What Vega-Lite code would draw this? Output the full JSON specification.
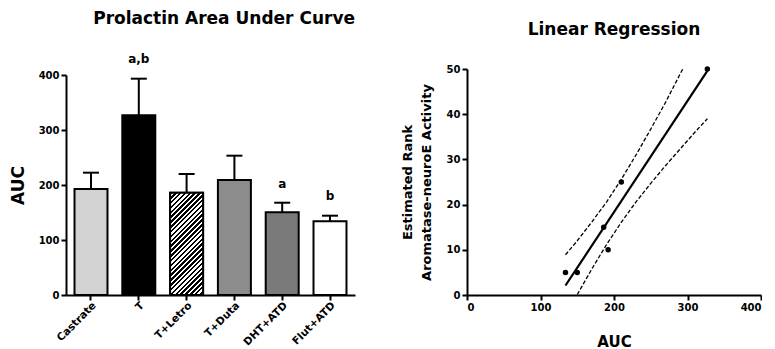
{
  "$schema": "https://vega.github.io/schema/vega-lite/v6.json",
  "padding": {"left": 9, "top": 9, "right": 0, "bottom": 0},
  "bounds": "flush",
  "spacing": 112,
  "config": {
    "font": "DejaVu Sans",
    "view": {"stroke": null},
    "axis": {"domainColor": "black", "domainWidth": 2, "tickColor": "black", "tickWidth": 2, "tickSize": 5, "labelFont": "DejaVu Sans", "labelFontWeight": "bold", "labelFontSize": 10, "labelColor": "black", "titleFont": "DejaVu Sans", "titleFontWeight": "bold", "titleColor": "black", "grid": false},
    "title": {"font": "DejaVu Sans", "fontWeight": "bold", "fontSize": 17, "color": "black", "offset": 25}
  },
  "datasets": {
    "bars": [
      {"group": "Castrate", "auc": 192.7, "err": 222.4},
      {"group": "T", "auc": 326.7, "err": 393.3, "sig": "a,b", "sigpos": 430},
      {"group": "T+Letro", "auc": 186, "err": 220},
      {"group": "T+Duta", "auc": 209, "err": 253.3},
      {"group": "DHT+ATD", "auc": 150.3, "err": 167.8, "sig": "a", "sigpos": 202},
      {"group": "Flut+ATD", "auc": 134, "err": 144.2, "sig": "b", "sigpos": 180}
    ],
    "points": [
      {"auc": 134, "rank": 5},
      {"auc": 150, "rank": 5},
      {"auc": 186, "rank": 15},
      {"auc": 192, "rank": 10},
      {"auc": 210, "rank": 25},
      {"auc": 327, "rank": 50}
    ],
    "lines": [
      {"series": "fit", "auc": 134, "rank": 2.1},
      {"series": "fit", "auc": 327, "rank": 49.6},
      {"series": "upper", "auc": 134, "rank": 8.9},
      {"series": "upper", "auc": 150, "rank": 12.0},
      {"series": "upper", "auc": 170, "rank": 16.2},
      {"series": "upper", "auc": 190, "rank": 20.6},
      {"series": "upper", "auc": 210, "rank": 25.6},
      {"series": "upper", "auc": 230, "rank": 31.0},
      {"series": "upper", "auc": 250, "rank": 36.7},
      {"series": "upper", "auc": 270, "rank": 42.6},
      {"series": "upper", "auc": 293.5, "rank": 50},
      {"series": "lower", "auc": 150, "rank": 0.1},
      {"series": "lower", "auc": 170, "rank": 5.8},
      {"series": "lower", "auc": 190, "rank": 11.2},
      {"series": "lower", "auc": 210, "rank": 16.1},
      {"series": "lower", "auc": 230, "rank": 20.6},
      {"series": "lower", "auc": 250, "rank": 24.7},
      {"series": "lower", "auc": 270, "rank": 28.6},
      {"series": "lower", "auc": 290, "rank": 32.3},
      {"series": "lower", "auc": 310, "rank": 36.0},
      {"series": "lower", "auc": 327, "rank": 39.0}
    ]
  },
  "hconcat": [
    {
      "width": 289,
      "height": 226,
      "title": {"text": "Prolactin Area Under Curve", "anchor": "end"},
      "data": {"name": "bars"},
      "encoding": {
        "x": {"field": "group", "type": "nominal", "sort": null, "title": null, "scale": {"paddingInner": 0.31, "paddingOuter": 0.178}, "axis": {"labelAngle": -45, "labelFontSize": 10.5, "labelPadding": 0}}
      },
      "layer": [
        {
          "mark": {"type": "bar", "stroke": "black", "strokeWidth": 2},
          "encoding": {
            "y": {"field": "auc", "type": "quantitative", "title": "AUC", "scale": {"domain": [0, 400], "range": [226, 6], "nice": false}, "axis": {"values": [0, 100, 200, 300, 400], "titleFontSize": 17, "titlePadding": 11}},
            "fill": {"field": "group", "type": "nominal", "legend": null, "scale": {"domain": ["Castrate", "T", "T+Letro", "T+Duta", "DHT+ATD", "Flut+ATD"], "range": ["#d2d2d2", "#000000", "#ffffff", "#8c8c8c", "#7a7a7a", "#ffffff"]}}
          }
        },
        {
          "transform": [{"filter": "datum.group === 'T+Letro'"}],
          "mark": {"type": "bar", "stroke": "black", "strokeWidth": 2, "fill": {"gradient": "linear", "x1": 0, "y1": 0, "x2": 0.3865, "y2": 1.198, "stops": [
{"offset":0,"color":"#000"},{"offset":0.0179,"color":"#000"},{"offset":0.0179,"color":"#fff"},{"offset":0.0357,"color":"#fff"},
{"offset":0.0357,"color":"#000"},{"offset":0.0536,"color":"#000"},{"offset":0.0536,"color":"#fff"},{"offset":0.0714,"color":"#fff"},
{"offset":0.0714,"color":"#000"},{"offset":0.0893,"color":"#000"},{"offset":0.0893,"color":"#fff"},{"offset":0.1071,"color":"#fff"},
{"offset":0.1071,"color":"#000"},{"offset":0.125,"color":"#000"},{"offset":0.125,"color":"#fff"},{"offset":0.1429,"color":"#fff"},
{"offset":0.1429,"color":"#000"},{"offset":0.1607,"color":"#000"},{"offset":0.1607,"color":"#fff"},{"offset":0.1786,"color":"#fff"},
{"offset":0.1786,"color":"#000"},{"offset":0.1964,"color":"#000"},{"offset":0.1964,"color":"#fff"},{"offset":0.2143,"color":"#fff"},
{"offset":0.2143,"color":"#000"},{"offset":0.2321,"color":"#000"},{"offset":0.2321,"color":"#fff"},{"offset":0.25,"color":"#fff"},
{"offset":0.25,"color":"#000"},{"offset":0.2679,"color":"#000"},{"offset":0.2679,"color":"#fff"},{"offset":0.2857,"color":"#fff"},
{"offset":0.2857,"color":"#000"},{"offset":0.3036,"color":"#000"},{"offset":0.3036,"color":"#fff"},{"offset":0.3214,"color":"#fff"},
{"offset":0.3214,"color":"#000"},{"offset":0.3393,"color":"#000"},{"offset":0.3393,"color":"#fff"},{"offset":0.3571,"color":"#fff"},
{"offset":0.3571,"color":"#000"},{"offset":0.375,"color":"#000"},{"offset":0.375,"color":"#fff"},{"offset":0.3929,"color":"#fff"},
{"offset":0.3929,"color":"#000"},{"offset":0.4107,"color":"#000"},{"offset":0.4107,"color":"#fff"},{"offset":0.4286,"color":"#fff"},
{"offset":0.4286,"color":"#000"},{"offset":0.4464,"color":"#000"},{"offset":0.4464,"color":"#fff"},{"offset":0.4643,"color":"#fff"},
{"offset":0.4643,"color":"#000"},{"offset":0.4821,"color":"#000"},{"offset":0.4821,"color":"#fff"},{"offset":0.5,"color":"#fff"},
{"offset":0.5,"color":"#000"},{"offset":0.5179,"color":"#000"},{"offset":0.5179,"color":"#fff"},{"offset":0.5357,"color":"#fff"},
{"offset":0.5357,"color":"#000"},{"offset":0.5536,"color":"#000"},{"offset":0.5536,"color":"#fff"},{"offset":0.5714,"color":"#fff"},
{"offset":0.5714,"color":"#000"},{"offset":0.5893,"color":"#000"},{"offset":0.5893,"color":"#fff"},{"offset":0.6071,"color":"#fff"},
{"offset":0.6071,"color":"#000"},{"offset":0.625,"color":"#000"},{"offset":0.625,"color":"#fff"},{"offset":0.6429,"color":"#fff"},
{"offset":0.6429,"color":"#000"},{"offset":0.6607,"color":"#000"},{"offset":0.6607,"color":"#fff"},{"offset":0.6786,"color":"#fff"},
{"offset":0.6786,"color":"#000"},{"offset":0.6964,"color":"#000"},{"offset":0.6964,"color":"#fff"},{"offset":0.7143,"color":"#fff"},
{"offset":0.7143,"color":"#000"},{"offset":0.7321,"color":"#000"},{"offset":0.7321,"color":"#fff"},{"offset":0.75,"color":"#fff"},
{"offset":0.75,"color":"#000"},{"offset":0.7679,"color":"#000"},{"offset":0.7679,"color":"#fff"},{"offset":0.7857,"color":"#fff"},
{"offset":0.7857,"color":"#000"},{"offset":0.8036,"color":"#000"},{"offset":0.8036,"color":"#fff"},{"offset":0.8214,"color":"#fff"},
{"offset":0.8214,"color":"#000"},{"offset":0.8393,"color":"#000"},{"offset":0.8393,"color":"#fff"},{"offset":0.8571,"color":"#fff"},
{"offset":0.8571,"color":"#000"},{"offset":0.875,"color":"#000"},{"offset":0.875,"color":"#fff"},{"offset":0.8929,"color":"#fff"},
{"offset":0.8929,"color":"#000"},{"offset":0.9107,"color":"#000"},{"offset":0.9107,"color":"#fff"},{"offset":0.9286,"color":"#fff"},
{"offset":0.9286,"color":"#000"},{"offset":0.9464,"color":"#000"},{"offset":0.9464,"color":"#fff"},{"offset":0.9643,"color":"#fff"},
{"offset":0.9643,"color":"#000"},{"offset":0.9821,"color":"#000"},{"offset":0.9821,"color":"#fff"},{"offset":1,"color":"#fff"}
          ]}},
          "encoding": {
            "y": {"field": "auc", "type": "quantitative", "title": "AUC"}
          }
        },
        {
          "mark": {"type": "rule", "color": "black", "strokeWidth": 2},
          "encoding": {
            "y": {"field": "auc", "type": "quantitative", "title": "AUC"},
            "y2": {"field": "err"}
          }
        },
        {
          "mark": {"type": "tick", "color": "black", "size": 16, "thickness": 2, "opacity": 1},
          "encoding": {
            "y": {"field": "err", "type": "quantitative", "title": "AUC"}
          }
        },
        {
          "transform": [{"filter": "datum.sig"}],
          "mark": {"type": "text", "fontWeight": "bold", "fontSize": 12, "color": "black", "font": "DejaVu Sans"},
          "encoding": {
            "y": {"field": "sigpos", "type": "quantitative", "title": "AUC"},
            "text": {"field": "sig"}
          }
        }
      ]
    },
    {
      "width": 294,
      "height": 226,
      "title": {"text": "Linear Regression", "anchor": "middle"},
      "encoding": {
        "x": {"field": "auc", "type": "quantitative", "title": "AUC", "scale": {"domain": [0, 400], "nice": false}, "axis": {"values": [0, 100, 200, 300, 400], "titleFontSize": 15, "titlePadding": 22}},
        "y": {"field": "rank", "type": "quantitative", "title": ["Estimated Rank", "Aromatase-neuroE Activity"], "scale": {"domain": [0, 50], "nice": false}, "axis": {"values": [0, 10, 20, 30, 40, 50], "titleFontSize": 13, "titlePadding": 13, "titleLineHeight": 19}}
      },
      "layer": [
        {
          "data": {"name": "lines"},
          "transform": [{"filter": "datum.series !== 'fit'"}],
          "mark": {"type": "line", "color": "black", "strokeWidth": 1.3, "strokeDash": [4, 2]},
          "encoding": {"detail": {"field": "series"}}
        },
        {
          "data": {"name": "lines"},
          "transform": [{"filter": "datum.series === 'fit'"}],
          "mark": {"type": "line", "color": "black", "strokeWidth": 2.2},
          "encoding": {}
        },
        {
          "data": {"name": "points"},
          "mark": {"type": "point", "filled": true, "color": "black", "size": 30, "opacity": 1},
          "encoding": {}
        }
      ]
    }
  ]
}
